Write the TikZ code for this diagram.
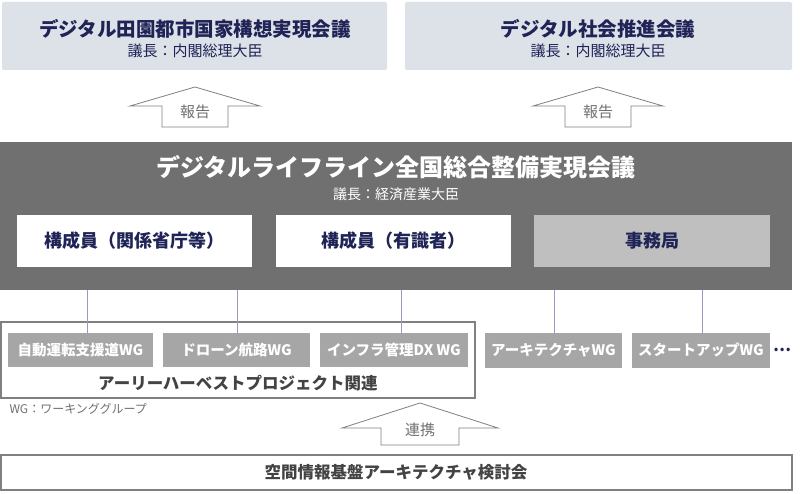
\documentclass[tikz,border=0pt]{standalone}
\usepackage{fontspec}
\setmainfont{Noto Sans CJK JP}
\definecolor{navy}{HTML}{1F2356}
\definecolor{topfill}{HTML}{DDE1E8}
\definecolor{darkfill}{HTML}{707070}
\definecolor{wgfill}{HTML}{A6A6A6}
\definecolor{linkline}{HTML}{9A9AC0}
\tikzset{
  topbox/.style={fill=topfill,rounded corners=2pt},
  memberbox/.style={fill=white,font=\bfseries\fontsize{18}{18}\selectfont,text=navy},
  wgbox/.style={fill=wgfill,text=white,font=\bfseries\fontsize{14.5}{14.5}\selectfont},
  arrowline/.style={draw=gray,thick,fill=white},
  arrowtext/.style={text=darkfill,font=\fontsize{15}{15}\selectfont}
}
\begin{document}
\begin{tikzpicture}[x=1pt,y=-1pt]
  \useasboundingbox (0,0) rectangle (800,494);
  % councils on top
  \fill[topbox] (2,2) rectangle (387,70);
  \node[text=navy,font=\bfseries\fontsize{19.5}{19.5}\selectfont] (city) at (195,29) {デジタル田園都市国家構想実現会議};
  \node[text=navy,font=\fontsize{15}{15}\selectfont] (citychair) at (195,51) {議長：内閣総理大臣};
  \fill[topbox] (405,2) rectangle (792,70);
  \node[text=navy,font=\bfseries\fontsize{19.5}{19.5}\selectfont] (soc) at (598,29) {デジタル社会推進会議};
  \node[text=navy,font=\fontsize{15}{15}\selectfont] (socchair) at (598,51) {議長：内閣総理大臣};
  \foreach \c/\n in {195/rep1,598/rep2}{
    \draw[arrowline] (\c,87) -- (\c+65,106) -- (\c+33,106) -- (\c+33,127)
      -- (\c-33,127) -- (\c-33,106) -- (\c-65,106) -- cycle;
    \node[arrowtext] (\n) at (\c,112) {報告};
  }

  % main council
  \fill[darkfill] (0,142) rectangle (792,290);
  \node[text=white,font=\bfseries\fontsize{24}{24}\selectfont] (main) at (396,167) {デジタルライフライン全国総合整備実現会議};
  \node[text=white,font=\fontsize{14}{14}\selectfont] (mainchair) at (396,194) {議長：経済産業大臣};
  \node[memberbox,minimum width=235pt,minimum height=52pt] (m1) at (134.5,241) {構成員（関係省庁等）};
  \node[memberbox,minimum width=235pt,minimum height=52pt] (m2) at (393.5,241) {構成員（有識者）};
  \node[memberbox,fill=gray!50,minimum width=236pt,minimum height=52pt] (m3) at (652,241) {事務局};

  % working groups
  \draw[gray,line width=1.5pt] (1,322) rectangle (475,398);
  \node[wgbox,minimum width=145pt,minimum height=34pt] (wg1) at (80.5,350) {自動運転支援道WG};
  \node[wgbox,minimum width=147pt,minimum height=34pt] (wg2) at (236.5,350) {ドローン航路WG};
  \node[wgbox,minimum width=148pt,minimum height=34pt] (wg3) at (394,350) {インフラ管理DX WG};
  \node[wgbox,minimum width=137pt,minimum height=35pt] (wg4) at (553.5,350) {アーキテクチャWG};
  \node[wgbox,minimum width=138pt,minimum height=35pt] (wg5) at (701,350) {スタートアップWG};
  \node[text=navy,font=\bfseries\fontsize{16}{16}\selectfont] (more) at (782,350) {…};
  \node[text=darkfill!60!black,font=\bfseries\fontsize{16.5}{16.5}\selectfont] (early) at (238,383) {アーリーハーベストプロジェクト関連};
  \node[anchor=west,text=darkfill,font=\fontsize{12}{12}\selectfont] (note) at (6,409) {WG：ワーキンググループ};
  \foreach \x in {87,237,401,554,702}
    \draw[linkline,thin] (\x,290) -- (\x,333);

  % study group
  \draw[arrowline] (420,403) -- (498,428) -- (459,428) -- (459,445)
    -- (381,445) -- (381,428) -- (342,428) -- cycle;
  \node[arrowtext] (link) at (420,430) {連携};
  \draw[gray,line width=1.5pt] (1,455) rectangle (792,490);
  \node[text=darkfill!60!black,font=\bfseries\fontsize{16.5}{16.5}\selectfont] (study) at (396,472) {空間情報基盤アーキテクチャ検討会};
\end{tikzpicture}
\end{document}
